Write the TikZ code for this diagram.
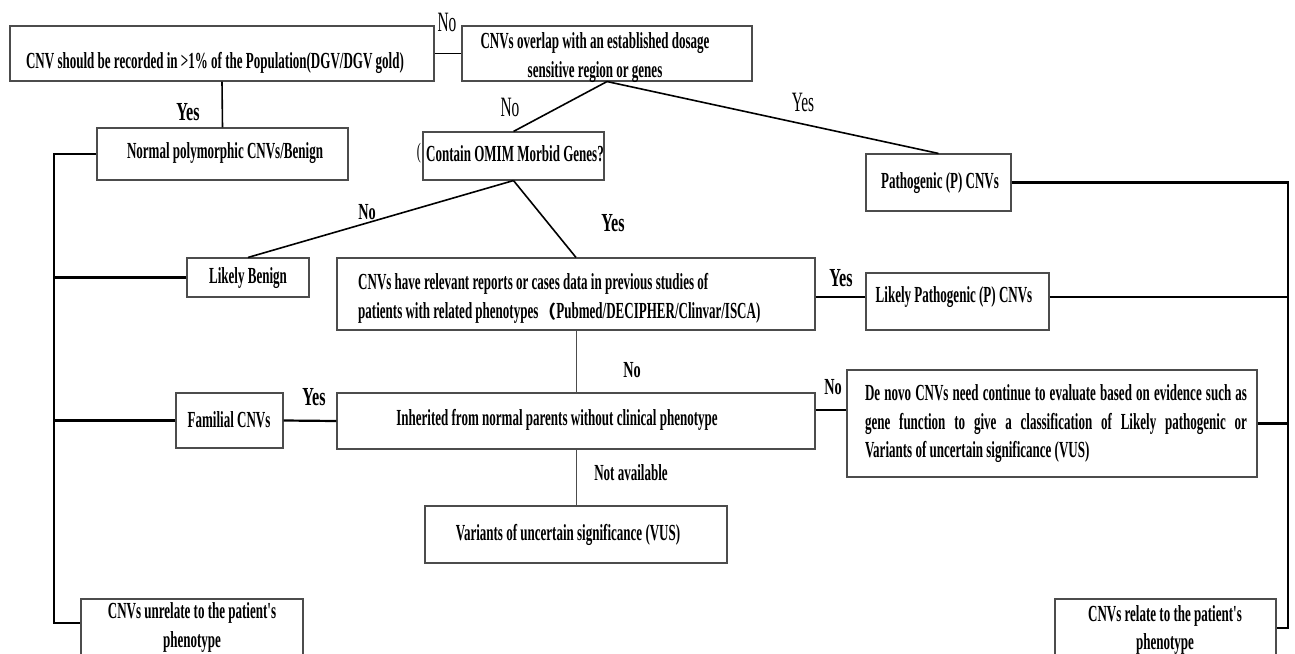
\documentclass[tikz,border=0pt]{standalone}
\usepackage{fontspec}
\setmainfont{Liberation Serif}
\newfontfamily\cond{Liberation Serif}[FakeStretch=0.566]
\newfontfamily\condl{Liberation Serif}[FakeStretch=0.62]
\newfontfamily\condr{Liberation Serif}[FakeStretch=0.55]
\newfontfamily\cjk{Noto Sans CJK SC}
\begin{document}
\begin{tikzpicture}[x=1pt,y=-1pt,
  box/.style={draw=black!70, line width=1.1pt, inner sep=0pt},
  txt/.style={font=\cond\bfseries\fontsize{23}{28.5}\selectfont, inner sep=0pt, align=center},
  labb/.style={font=\condl\bfseries\fontsize{26}{28}\selectfont, inner sep=0pt},
  labs/.style={font=\condl\bfseries\fontsize{23}{26}\selectfont, inner sep=0pt},
  labr/.style={font=\condr\fontsize{28}{30}\selectfont, inner sep=0pt},
  conn/.style={line width=1.6pt},
  thinc/.style={line width=1pt, draw=black!70},
  bus/.style={line width=2.2pt},
]
\useasboundingbox (0,0) rectangle (1295,653);

% boxes
\node[box, minimum width=424, minimum height=55] (b1) at (222,53.5) {};
\node[box, minimum width=290, minimum height=55] (b2) at (607,53.5) {};
\node[box, minimum width=251, minimum height=52] (bN) at (222.5,154) {};
\node[box, minimum width=181, minimum height=48] (bC) at (513.5,156) {};
\node[box, minimum width=145, minimum height=57] (bP) at (938.5,182.5) {};
\node[box, minimum width=122, minimum height=39] (bLB) at (248,277.5) {};
\node[box, minimum width=478, minimum height=72] (bR) at (576,294) {};
\node[box, minimum width=183, minimum height=57] (bLP) at (957.5,301.5) {};
\node[box, minimum width=107, minimum height=55] (bF) at (229.5,420.5) {};
\node[box, minimum width=478, minimum height=56] (bI) at (576,421) {};
\node[box, minimum width=410, minimum height=107] (bD) at (1052,423.5) {};
\node[box, minimum width=302, minimum height=57] (bV) at (576,534.5) {};
\node[box, minimum width=222, minimum height=70] (bU) at (192,634) {};
\node[box, minimum width=221, minimum height=70] (bRel) at (1165.5,634) {};

% texts
\node[txt] (t1) at (215,63) {CNV should be recorded in >1\% of the Population(DGV/DGV gold)};
\node[txt] (t2) at (595,57.5) {CNVs overlap with an established dosage\\sensitive region or genes};
\node[txt] (tN) at (225,153) {Normal polymorphic CNVs/Benign};
\node[txt] (tC) at (515,154) {Contain OMIM Morbid Genes?};
\node[txt] (tP) at (940,183) {Pathogenic (P) CNVs};
\node[txt] (tLB) at (248,278) {Likely Benign};
\node[txt, align=left, anchor=west] (tR) at (358,298.5) {CNVs have relevant reports or cases data in previous studies of\\patients with related phenotypes{\cjk\fontsize{18}{20}\selectfont （}Pubmed/DECIPHER/Clinvar/ISCA)};
\node[txt] (tLP) at (954,297) {Likely Pathogenic (P) CNVs};
\node[txt] (tF) at (229,420) {Familial CNVs};
\node[txt] (tI) at (557,420) {Inherited from normal parents without clinical phenotype};
\node[txt, align=left] (tD) at (1056,424) {\makebox[382pt][s]{De novo CNVs need continue to evaluate based on evidence such as}\\\makebox[382pt][s]{gene function to give a classification of Likely pathogenic or}\\Variants of uncertain significance (VUS)};
\node[txt] (tV) at (568,535) {Variants of uncertain significance (VUS)};
\node[txt] (tU) at (192,627.5) {CNVs unrelate to the patient's\\phenotype};
\node[txt] (tRel) at (1165,630) {CNVs relate to the patient's\\phenotype};

% labels
\node[labr] (lNo1) at (447,22) {No};
\node[labb] (lYes1) at (188,112) {Yes};
\node[labr] (lNo2) at (510,107) {No};
\node[labr] (lYes2) at (803,102) {Yes};
\node[labs] (lNo3) at (367,212) {No};
\node[labb] (lYes3) at (613,223) {Yes};
\node[labb] (lYes4) at (841,278) {Yes};
\node[labs] (lNo4) at (632,370) {No};
\node[labs] (lNo5) at (833,387) {No};
\node[labb] (lYes5) at (314,397) {Yes};
\node[txt] (lNA) at (631,473) {Not available};
\node[font=\condr\fontsize{22}{24}\selectfont, inner sep=0pt] (paren) at (419,153) {(};

% connectors
\draw[conn] (b1.east) -- (b2.west);
\draw[conn] (b1.south) -- (bN.north);
\draw[conn] (b2.south) -- (bC.north);
\draw[conn] (b2.south) -- (bP.north);
\draw[conn] (bC.south) -- (bLB.north);
\draw[conn] (bC.south) -- (bR.north);
\draw[thinc] (bR.south) -- (bI.north);
\draw[conn] (bR.east |- tLP) -- (bLP.west |- tLP);
\draw[bus] (bF.east) -- (bI.west);
\draw[conn] ([yshift=11pt]bI.east) -- ([yshift=11pt]bI.east -| bD.west);
\draw[thinc] (bI.south) -- (bV.north);

% left bus
\coordinate (Ltop) at (54,154);
\coordinate (Lbot) at (54,623);
\draw[bus] (bN.west) -- (Ltop) -- (Lbot) -- (Lbot -| bU.west);
\draw[bus] (bLB.west) -- (bLB.west -| Ltop);
\draw[bus] (bF.west) -- (bF.west -| Ltop);

% right bus
\coordinate (Rtop) at (1288,182.5);
\coordinate (Rbot) at (1288,628);
\draw[bus] (bP.east) -- (Rtop) -- (Rbot) -- (Rbot -| bRel.east);
\draw[bus] (bLP.east |- tLP) -- (Rtop |- tLP);
\draw[bus] (bD.east) -- (bD.east -| Rtop);
\end{tikzpicture}
\end{document}
